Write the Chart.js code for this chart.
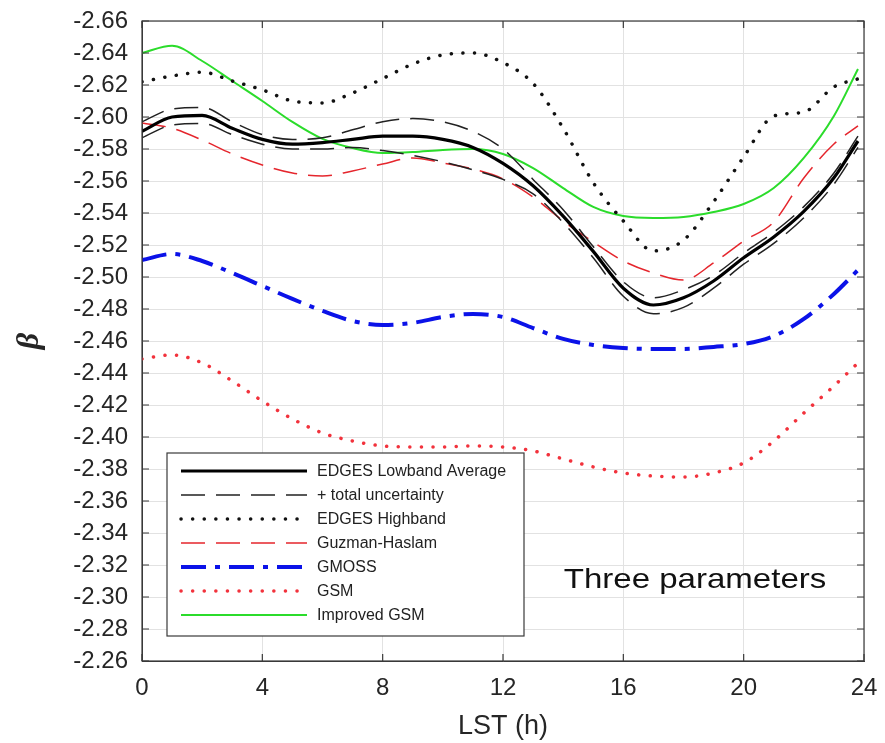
<!DOCTYPE html>
<html>
<head>
<meta charset="utf-8">
<script src="https://cdn.jsdelivr.net/npm/chart.js@4.4.1/dist/chart.umd.min.js"></script>
<style>
  html, body { margin: 0; padding: 0; background: #fff; }
  #wrap { width: 885px; height: 743px; }
</style>
</head>
<body>
<div id="wrap"><canvas id="beta"></canvas></div>
<script>
// LST hours the curves were read at
const hours = [0, 1, 2, 3, 4, 5, 6, 7, 8, 9, 10, 11, 12, 13, 14, 15, 16, 17, 18, 19, 20, 21, 22, 23, 23.8];

const lowband = [-2.591, -2.600, -2.601, -2.593, -2.586, -2.583, -2.584, -2.586, -2.588, -2.588, -2.586, -2.581, -2.571,
  -2.557, -2.538, -2.516, -2.493, -2.4825, -2.487, -2.4975, -2.512, -2.525, -2.541, -2.562, -2.585];
const lowUpper = [-2.597, -2.605, -2.606, -2.597, -2.589, -2.586, -2.587, -2.592, -2.597, -2.599, -2.597, -2.591, -2.580,
  -2.561, -2.542, -2.519, -2.497, -2.487, -2.492, -2.501, -2.515, -2.528, -2.544, -2.565, -2.588];
const lowLower = [-2.587, -2.595, -2.596, -2.589, -2.583, -2.580, -2.580, -2.581, -2.579, -2.576, -2.572, -2.567, -2.561,
  -2.552, -2.534, -2.512, -2.488, -2.477, -2.481, -2.493, -2.508, -2.521, -2.537, -2.558, -2.581];
const highband = [-2.622, -2.6256, -2.628, -2.6225, -2.617, -2.61, -2.6088, -2.615, -2.624, -2.6331, -2.6388, -2.64, -2.634,
  -2.621, -2.593, -2.559, -2.535, -2.5163, -2.523, -2.547, -2.575, -2.6006, -2.6031, -2.6188, -2.6238];
const guzman = [-2.5963, -2.593, -2.5856, -2.5769, -2.57, -2.565, -2.5631, -2.5663, -2.5706, -2.5744, -2.5713, -2.5675, -2.5613,
  -2.55, -2.535, -2.5219, -2.51, -2.5025, -2.4981, -2.5088, -2.5225, -2.5344, -2.5619, -2.5831, -2.5944];
const gmoss = [-2.5106, -2.5144, -2.51, -2.5025, -2.4944, -2.4863, -2.4788, -2.4725, -2.47, -2.4713, -2.475, -2.4769, -2.475,
  -2.4681, -2.4613, -2.4575, -2.4556, -2.455, -2.455, -2.4563, -2.4581, -2.4631, -2.4738, -2.4894, -2.5044];
const gsm = [-2.4488, -2.4513, -2.4463, -2.435, -2.4225, -2.4113, -2.4025, -2.3975, -2.3944, -2.3938, -2.3938, -2.3944, -2.3938,
  -2.3913, -2.3863, -2.3813, -2.3775, -2.3756, -2.375, -2.3775, -2.3838, -2.3975, -2.415, -2.4319, -2.4463];
const improvedGsm = [-2.64, -2.6445, -2.635, -2.6225, -2.61, -2.5969, -2.5863, -2.5806, -2.5775, -2.5781, -2.5794, -2.58, -2.5769,
  -2.5681, -2.5556, -2.5438, -2.5381, -2.5369, -2.5375, -2.5406, -2.5456, -2.5556, -2.5744, -2.6006, -2.63];

const xTicks = [0, 4, 8, 12, 16, 20, 24];
const yMin = -2.66, yMax = -2.26, yStep = 0.02;

const FONT = '"Liberation Sans", Arial, sans-serif';

function pts(vals) {
  return vals.map((v, i) => ({x: hours[i], y: v}));
}

function line(label, vals, color, width, dash, cap) {
  return {
    label: label,
    data: pts(vals),
    borderColor: color,
    backgroundColor: color,
    borderWidth: width,
    borderDash: dash || [],
    borderCapStyle: cap || 'butt',
    pointRadius: 0,
    fill: false,
    cubicInterpolationMode: 'monotone'
  };
}

// labels may overhang the plot box, the layout padding takes care of it
function noPad(s) {
  s.paddingTop = 0; s.paddingBottom = 0;
  s.paddingLeft = 0; s.paddingRight = 0;
}

// box, inward ticks, legend and the annotation
const decor = {
  id: 'decor',
  afterDatasetsDraw(chart) {
    const ctx = chart.ctx, a = chart.chartArea;
    const x = chart.scales.x, y = chart.scales.y;
    ctx.save();
    ctx.strokeStyle = '#3a3a3a';
    ctx.lineWidth = 1.2;
    ctx.setLineDash([]);
    ctx.strokeRect(a.left, a.top, a.right - a.left, a.bottom - a.top);
    ctx.beginPath();
    y.ticks.forEach(t => {
      const py = y.getPixelForValue(t.value);
      ctx.moveTo(a.left, py); ctx.lineTo(a.left + 7, py);
      ctx.moveTo(a.right, py); ctx.lineTo(a.right - 7, py);
    });
    x.ticks.forEach(t => {
      const px = x.getPixelForValue(t.value);
      ctx.moveTo(px, a.bottom); ctx.lineTo(px, a.bottom - 7);
      ctx.moveTo(px, a.top); ctx.lineTo(px, a.top + 7);
    });
    ctx.stroke();

    // legend
    const bx = 167, by = 453, bw = 357, bh = 183;
    ctx.fillStyle = '#fff';
    ctx.fillRect(bx, by, bw, bh);
    ctx.strokeStyle = '#3a3a3a';
    ctx.lineWidth = 1.2;
    ctx.strokeRect(bx, by, bw, bh);
    const seen = {};
    let row = 0;
    chart.data.datasets.forEach(ds => {
      if (seen[ds.label]) return;
      seen[ds.label] = true;
      const ly = by + 18 + row * 24;
      ctx.beginPath();
      ctx.strokeStyle = ds.borderColor;
      ctx.lineWidth = ds.borderWidth;
      ctx.lineCap = ds.borderCapStyle;
      ctx.setLineDash(ds.borderDash);
      ctx.moveTo(181, ly);
      ctx.lineTo(307, ly);
      ctx.stroke();
      ctx.setLineDash([]);
      ctx.fillStyle = '#222';
      ctx.font = '16px ' + FONT;
      ctx.textAlign = 'left';
      ctx.textBaseline = 'middle';
      ctx.fillText(ds.label, 317, ly + 1);
      row++;
    });

    ctx.translate(695, 580);
    ctx.scale(1.18, 1);
    ctx.fillStyle = '#111';
    ctx.font = '28px ' + FONT;
    ctx.textAlign = 'center';
    ctx.textBaseline = 'middle';
    ctx.fillText('Three parameters', 0, 0);
    ctx.restore();
  }
};

new Chart(document.getElementById('beta'), {
  type: 'line',
  data: {
    datasets: [
      line('EDGES Lowband Average', lowband, '#000', 3.2),
      line('+ total uncertainty', lowUpper, '#222', 1.5, [24, 11]),
      line('+ total uncertainty', lowLower, '#222', 1.5, [24, 11]),
      line('EDGES Highband', highband, '#111', 3.5, [0.1, 11.5], 'round'),
      line('Guzman-Haslam', guzman, '#e5262d', 1.5, [24, 11]),
      line('GMOSS', gmoss, '#0b12e8', 4, [25, 9, 5, 9]),
      line('GSM', gsm, '#f2323c', 3.5, [0.1, 11.5], 'round'),
      line('Improved GSM', improvedGsm, '#2bdc2b', 2)
    ]
  },
  options: {
    responsive: true,
    maintainAspectRatio: false,
    animation: false,
    layout: {padding: {top: 21, right: 21, left: 0, bottom: 0}},
    plugins: {
      legend: {display: false},
      tooltip: {enabled: false}
    },
    scales: {
      x: {
        type: 'linear',
        min: 0,
        max: 24,
        afterFit: s => { s.height = 82; noPad(s); },
        afterBuildTicks: s => { s.ticks = xTicks.map(v => ({value: v})); },
        ticks: {
          autoSkip: false,
          maxRotation: 0,
          padding: 13,
          color: '#262626',
          font: {family: FONT, size: 24}
        },
        grid: {color: '#e2e2e2', drawTicks: false},
        border: {color: '#3a3a3a'},
        title: {
          display: true,
          text: 'LST (h)',
          color: '#262626',
          font: {family: FONT, size: 27},
          padding: {top: 4, bottom: 0}
        }
      },
      y: {
        type: 'linear',
        reverse: true,
        min: yMin,
        max: yMax,
        afterFit: s => { s.width = 142; noPad(s); },
        ticks: {
          stepSize: yStep,
          autoSkip: false,
          padding: 14,
          color: '#262626',
          font: {family: FONT, size: 24},
          callback: v => v.toFixed(2)
        },
        grid: {color: '#e2e2e2', drawTicks: false},
        border: {color: '#3a3a3a'},
        title: {
          display: true,
          text: 'β',
          color: '#262626',
          font: {family: '"Liberation Serif", serif', size: 32, style: 'italic', weight: 'bold'},
          padding: {top: 11, bottom: 0}
        }
      }
    }
  },
  plugins: [decor]
});
</script>
</body>
</html>
